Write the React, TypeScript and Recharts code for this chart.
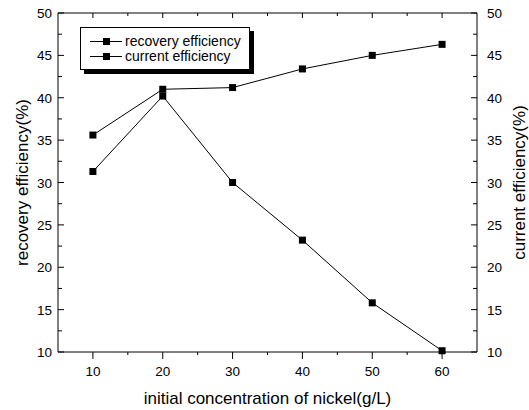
import { Legend, Line, LineChart, XAxis, YAxis } from "recharts";

const concentration = [10, 20, 30, 40, 50, 60];
const recoveryEfficiency = [31.3, 40.2, 30.0, 23.2, 15.8, 10.15];
const currentEfficiency = [35.6, 41.0, 41.2, 43.4, 45.0, 46.3];

const xTicks = [10, 15, 20, 25, 30, 35, 40, 45, 50, 55, 60];
const yTicks = [10, 12.5, 15, 17.5, 20, 22.5, 25, 27.5, 30, 32.5, 35, 37.5, 40, 42.5, 45, 47.5, 50];

const FONT = "'Liberation Sans', Arial, sans-serif";

const data = concentration.map((c, i) => ({
  c,
  recovery: recoveryEfficiency[i],
  current: currentEfficiency[i],
}));

const isMajorX = (v: number) => v % 10 === 0;
const isMajorY = (v: number) => v % 5 === 0;

function BottomTick({ x, y, payload }: any) {
  const major = isMajorX(payload.value);
  return (
    <g>
      <line x1={x} x2={x} y1={y} y2={y + (major ? 7 : 3)} stroke="#000" />
      {major && (
        <text x={x} y={y + 24} textAnchor="middle" fontSize={13.5} fontFamily={FONT} fill="#000">
          {payload.value}
        </text>
      )}
    </g>
  );
}

function TopTick({ x, y, payload }: any) {
  const major = isMajorX(payload.value);
  return <line x1={x} x2={x} y1={y} y2={y + (major ? 5 : 3)} stroke="#000" />;
}

function LeftTick({ x, y, payload }: any) {
  const major = isMajorY(payload.value);
  return (
    <g>
      <line x1={x} x2={x + (major ? 6 : 4)} y1={y} y2={y} stroke="#000" />
      {major && (
        <text x={x - 6} y={y + 5} textAnchor="end" fontSize={13.5} fontFamily={FONT} fill="#000">
          {payload.value}
        </text>
      )}
    </g>
  );
}

function RightTick({ x, y, payload }: any) {
  const major = isMajorY(payload.value);
  return (
    <g>
      <line x1={x} x2={x - (major ? 6 : 4)} y1={y} y2={y} stroke="#000" />
      {major && (
        <text x={x + 10} y={y + 5} textAnchor="start" fontSize={13.5} fontFamily={FONT} fill="#000">
          {payload.value}
        </text>
      )}
    </g>
  );
}

const squareDot = (props: any) => (
  <rect key={props.index} x={props.cx - 3.5} y={props.cy - 3.5} width={7} height={7} fill="#000" />
);

function LegendBox() {
  const rows = ["recovery efficiency", "current efficiency"];
  return (
    <div
      style={{
        width: 168,
        height: 41,
        border: "1px solid #000",
        background: "#fff",
        boxShadow: "4px 4px 0 #000",
        fontFamily: FONT,
        fontSize: 14,
        boxSizing: "content-box",
      }}
    >
      {rows.map((r, i) => (
        <div key={r} style={{ display: "flex", alignItems: "center", height: 15, marginTop: i === 0 ? 6 : 0 }}>
          <svg width={44} height={15} style={{ flex: "none" }}>
            <line x1={9} x2={41} y1={7.5} y2={7.5} stroke="#000" />
            <rect x={22} y={4} width={7} height={7} fill="#000" />
          </svg>
          <span style={{ lineHeight: "15px", color: "#000", whiteSpace: "nowrap" }}>{r}</span>
        </div>
      ))}
    </div>
  );
}

export default function App() {
  return (
    <div style={{ position: "absolute", left: 0, top: 0, width: 529, height: 410, background: "#fff" }}>
      <LineChart width={529} height={410} data={data} margin={{ top: 0, right: 0, bottom: 0, left: 0 }}>
        <XAxis
          dataKey="c"
          type="number"
          domain={[5, 65]}
          ticks={xTicks}
          interval={0}
          height={58}
          tickSize={0}
          tickMargin={0}
          tickLine={false}
          axisLine={{ stroke: "#000" }}
          tick={<BottomTick />}
          label={{
            content: ({ viewBox }: any) => (
              <text
                x={viewBox.x + viewBox.width / 2}
                y={viewBox.y + 52}
                textAnchor="middle"
                fontSize={17}
                fontFamily={FONT}
                fill="#000"
              >
                initial concentration of nickel(g/L)
              </text>
            ),
          }}
        />
        <XAxis
          xAxisId="top"
          orientation="top"
          dataKey="c"
          type="number"
          domain={[5, 65]}
          ticks={xTicks}
          interval={0}
          height={13}
          tickSize={0}
          tickMargin={0}
          tickLine={false}
          axisLine={{ stroke: "#000" }}
          tick={<TopTick />}
        />
        <YAxis
          yAxisId="left"
          domain={[10, 50]}
          ticks={yTicks}
          interval={0}
          width={58}
          tickSize={0}
          tickMargin={0}
          tickLine={false}
          axisLine={{ stroke: "#000" }}
          tick={<LeftTick />}
          label={{
            content: ({ viewBox }: any) => {
              const cx = 22;
              const cy = viewBox.y + viewBox.height / 2;
              return (
                <text
                  x={cx}
                  y={cy}
                  transform={`rotate(-90 ${cx} ${cy})`}
                  textAnchor="middle"
                  dominantBaseline="central"
                  fontSize={17}
                  fontFamily={FONT}
                  fill="#000"
                >
                  recovery efficiency(%)
                </text>
              );
            },
          }}
        />
        <YAxis
          yAxisId="right"
          orientation="right"
          domain={[10, 50]}
          ticks={yTicks}
          interval={0}
          width={52}
          tickSize={0}
          tickMargin={0}
          tickLine={false}
          axisLine={{ stroke: "#000" }}
          tick={<RightTick />}
          label={{
            content: ({ viewBox }: any) => {
              const cx = 519;
              const cy = viewBox.y + viewBox.height / 2;
              return (
                <text
                  x={cx}
                  y={cy}
                  transform={`rotate(-90 ${cx} ${cy})`}
                  textAnchor="middle"
                  dominantBaseline="central"
                  fontSize={17}
                  fontFamily={FONT}
                  fill="#000"
                >
                  current efficiency(%)
                </text>
              );
            },
          }}
        />
        <Legend
          layout="horizontal"
          verticalAlign="middle"
          align="center"
          wrapperStyle={{ left: 80, top: 27, width: 170, height: 43 }}
          content={() => <LegendBox />}
        />
        <Line
          yAxisId="left"
          dataKey="recovery"
          name="recovery efficiency"
          stroke="#000"
          strokeWidth={1}
          dot={squareDot}
          activeDot={false}
          isAnimationActive={false}
        />
        <Line
          yAxisId="right"
          dataKey="current"
          name="current efficiency"
          stroke="#000"
          strokeWidth={1}
          dot={squareDot}
          activeDot={false}
          isAnimationActive={false}
        />
      </LineChart>
    </div>
  );
}
